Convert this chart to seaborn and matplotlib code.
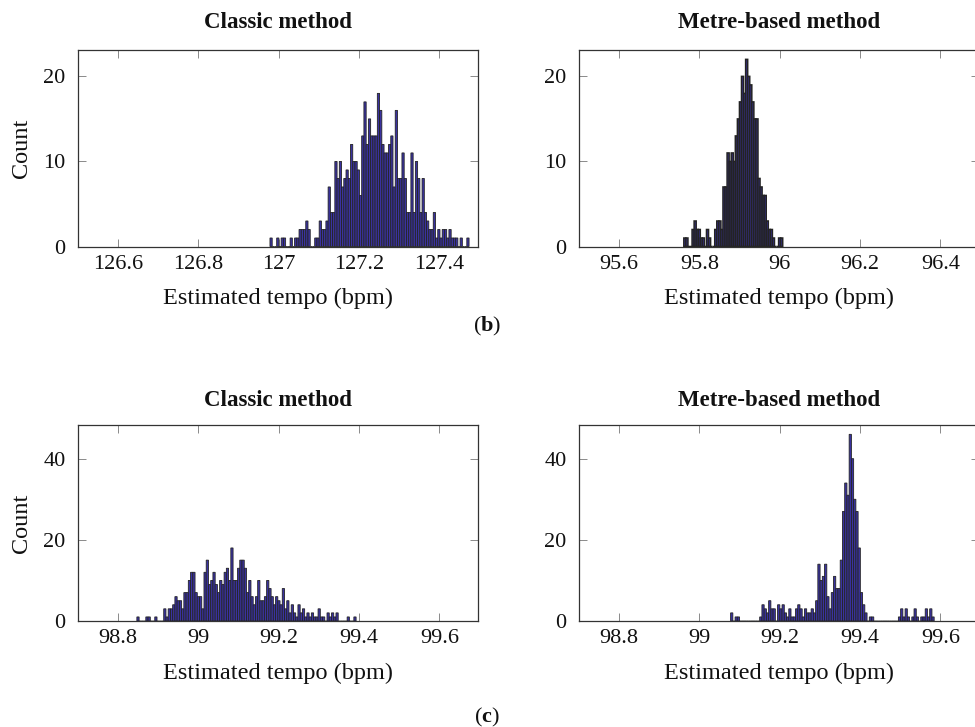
import numpy as np
import pandas as pd
import matplotlib
matplotlib.use("Agg")
import matplotlib.pyplot as plt
import seaborn as sns

# ---------------- data ----------------
titles = ["Classic method", "Metre-based method"]
x_label = "Estimated tempo (bpm)"
y_label = "Count"
sub_labels = ["b", "c"]

# (b) classic method histogram (bin start, bin width, counts)
b_classic_start = 126.978
b_classic_width = 0.00557
b_classic_counts = [1, 0, 0, 1, 0, 1, 1, 0, 0, 1,
                    0, 1, 1, 2, 2, 2, 3, 2, 0, 0,
                    1, 1, 3, 2, 2, 3, 7, 4, 4, 10,
                    8, 10, 7, 8, 9, 8, 12, 10, 10, 9,
                    6, 13, 17, 12, 15, 13, 13, 13, 18, 16,
                    12, 11, 11, 12, 13, 7, 16, 8, 8, 11,
                    8, 4, 4, 11, 4, 10, 8, 4, 8, 4,
                    3, 2, 2, 4, 1, 2, 1, 2, 2, 1,
                    2, 1, 1, 1, 0, 1, 0, 0, 1]

# (b) metre-based method
b_metre_start = 95.761
b_metre_width = 0.00513
b_metre_counts = [1, 1, 0, 0, 2, 3, 2, 2, 1, 1,
                  0, 2, 1, 0, 0, 2, 3, 3, 2, 7,
                  7, 11, 10, 11, 10, 13, 15, 17, 20, 18,
                  22, 20, 19, 17, 15, 15, 8, 7, 6, 6,
                  3, 2, 2, 1, 0, 0, 1, 1]

# (c) classic method
c_classic_start = 98.8466
c_classic_width = 0.00557
c_classic_counts = [1, 0, 0, 0, 1, 1, 0, 0, 1, 0,
                    0, 0, 3, 1, 3, 3, 4, 6, 5, 5,
                    3, 7, 7, 10, 12, 12, 7, 6, 6, 3,
                    12, 15, 9, 10, 12, 9, 7, 10, 9, 12,
                    13, 10, 18, 10, 10, 13, 15, 15, 13, 7,
                    10, 6, 4, 6, 10, 5, 5, 6, 10, 8,
                    6, 4, 6, 5, 4, 8, 3, 5, 2, 4,
                    2, 1, 4, 2, 3, 1, 2, 1, 2, 1,
                    1, 3, 1, 1, 0, 2, 1, 2, 1, 2,
                    0, 0, 0, 0, 1, 0, 0, 1]

# (c) metre-based method
c_metre_start = 99.0775
c_metre_width = 0.00557
c_metre_counts = [2, 0, 1, 1, 0, 0, 0, 0, 0, 0,
                  0, 0, 0, 1, 4, 3, 2, 5, 3, 3,
                  0, 4, 3, 4, 2, 1, 3, 1, 1, 3,
                  4, 3, 1, 3, 2, 2, 3, 2, 5, 14,
                  10, 11, 14, 6, 3, 7, 11, 8, 8, 15,
                  27, 34, 31, 46, 40, 30, 27, 18, 7, 4,
                  2, 0, 1, 1, 0, 0, 0, 0, 0, 0,
                  0, 0, 0, 0, 0, 1, 3, 1, 3, 1,
                  0, 1, 3, 1, 0, 1, 1, 3, 1, 3, 1]

b_classic_ticks = [126.6, 126.8, 127.0, 127.2, 127.4]
b_classic_ticklabels = ["126.6", "126.8", "127", "127.2", "127.4"]
b_metre_ticks = [95.6, 95.8, 96.0, 96.2, 96.4]
b_metre_ticklabels = ["95.6", "95.8", "96", "96.2", "96.4"]
c_ticks = [98.8, 99.0, 99.2, 99.4, 99.6]
c_ticklabels = ["98.8", "99", "99.2", "99.4", "99.6"]
b_yticks = [0, 10, 20]
c_yticks = [0, 20, 40]

b_classic_xlim = (126.5, 127.496)
b_metre_xlim = (95.5, 96.496)
c_xlim = (98.7, 99.696)
b_ymax = 23.1
c_ymax = 48.3

# ---------------- style ----------------
sns.set_style("ticks")
plt.rcParams["font.family"] = ["Liberation Serif", "DejaVu Serif"]
plt.rcParams["mathtext.fontset"] = "custom"
plt.rcParams["mathtext.rm"] = "Liberation Serif"
plt.rcParams["mathtext.bf"] = "Liberation Serif:bold"

FILL = "#3a32a0"
EDGE = "#232323"
TICK_FS = 16
LABEL_FS = 17.5
TITLE_FS = 16.5

W, H = 975, 727
fig = plt.figure(figsize=(W / 100, H / 100), dpi=100)


def px_axes(left, top, right, bottom):
    return fig.add_axes([left / W, 1 - bottom / H, (right - left) / W, (bottom - top) / H])


def hist_panel(ax, start, width, counts, xlim, ymax, ticks, ticklabels, yticks,
               title, ylab, title_y, xlab_y, edge_lw=0.6):
    counts = np.asarray(counts, dtype=float)
    n = len(counts)
    centers = start + width * (np.arange(n) + 0.5)
    df = pd.DataFrame({"tempo": centers, "count": counts})
    sns.histplot(data=df, x="tempo", weights="count", bins=n,
                 binrange=(start, start + width * n), ax=ax,
                 color=FILL, edgecolor=EDGE, linewidth=edge_lw, alpha=1.0)
    for p in ax.patches:
        p.set_snap(False)
    ax.set_xlim(*xlim)
    ax.set_ylim(0, ymax)
    ax.set_xticks(ticks)
    ax.set_xticklabels(ticklabels)
    ax.set_yticks(yticks)
    ax.tick_params(axis="both", which="major", direction="in", top=True, right=True,
                   length=6, width=0.6, color="#777777", labelsize=TICK_FS,
                   labelcolor="#111111")
    ax.tick_params(axis="x", pad=6)
    ax.tick_params(axis="y", pad=9)
    for s in ax.spines.values():
        s.set_visible(True)
        s.set_linewidth(0.9)
        s.set_color("#333333")
    ax.set_xlabel(x_label, fontsize=LABEL_FS, color="#111111")
    ax.xaxis.set_label_coords(0.5, xlab_y)
    ax.xaxis.label.set_verticalalignment("center")
    if ylab:
        ax.set_ylabel(y_label, fontsize=LABEL_FS, color="#111111")
        ax.yaxis.set_label_coords(-0.14, 0.5)
        ax.yaxis.label.set_verticalalignment("center")
    else:
        ax.set_ylabel("")
    ax.set_title(title, fontsize=TITLE_FS, fontweight="bold", y=title_y, pad=0,
                 va="center", color="#111111")


# top row (b)
ax1 = px_axes(78, 50, 478, 246.5)
ax2 = px_axes(579, 50, 979, 246.5)
# bottom row (c)
ax3 = px_axes(78, 425, 478, 621)
ax4 = px_axes(579, 425, 979, 621)

top_title_y = (246.5 - 22) / 196.5
top_xlab_y = (246.5 - 298) / 196.5
bot_title_y = (621 - 400) / 196
bot_xlab_y = (621 - 673) / 196

hist_panel(ax1, b_classic_start, b_classic_width, b_classic_counts, b_classic_xlim, b_ymax,
           b_classic_ticks, b_classic_ticklabels, b_yticks, titles[0], True,
           top_title_y, top_xlab_y)
hist_panel(ax2, b_metre_start, b_metre_width, b_metre_counts, b_metre_xlim, b_ymax,
           b_metre_ticks, b_metre_ticklabels, b_yticks, titles[1], False,
           top_title_y, top_xlab_y, edge_lw=1.1)
hist_panel(ax3, c_classic_start, c_classic_width, c_classic_counts, c_xlim, c_ymax,
           c_ticks, c_ticklabels, c_yticks, titles[0], True,
           bot_title_y, bot_xlab_y)
hist_panel(ax4, c_metre_start, c_metre_width, c_metre_counts, c_xlim, c_ymax,
           c_ticks, c_ticklabels, c_yticks, titles[1], False,
           bot_title_y, bot_xlab_y)

fig.text(487 / W, 1 - 326 / H, r"($\mathbf{%s}$)" % sub_labels[0], ha="center",
         va="center", fontsize=TICK_FS, color="#111111")
fig.text(487 / W, 1 - 717 / H, r"($\mathbf{%s}$)" % sub_labels[1], ha="center",
         va="center", fontsize=TICK_FS, color="#111111")

fig.savefig("out.png", dpi=100)
